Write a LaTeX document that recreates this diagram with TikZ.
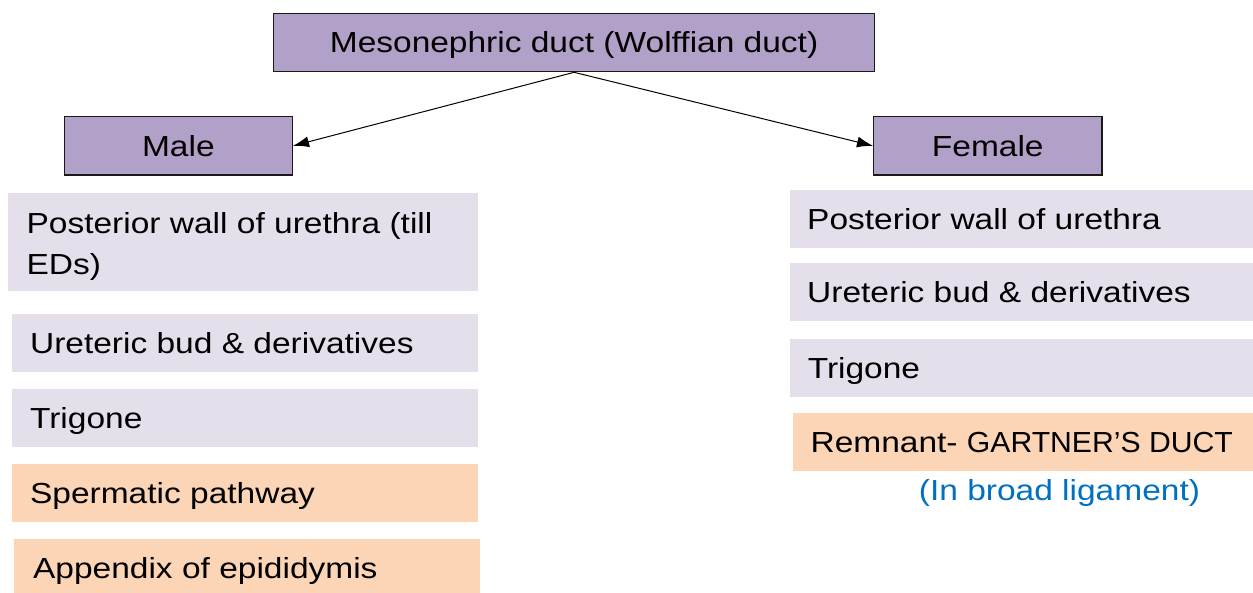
\documentclass[tikz,border=0pt]{standalone}
\usepackage{fontspec}
\setmainfont[FakeStretch=1.155]{Liberation Sans}
\newfontfamily\capsnarrow[FakeStretch=1.04]{Liberation Sans}
\usetikzlibrary{arrows.meta}
\definecolor{purp}{HTML}{B1A0C7}
\definecolor{lav}{HTML}{E5DFEC}
\definecolor{peach}{HTML}{FBD5B5}
\definecolor{note}{HTML}{0070C0}
\tikzset{
  basefont/.style={font=\fontsize{29}{41}\selectfont},
  pbox/.style={basefont, draw=black!90, line width=1.2pt, fill=purp, inner sep=0pt, text height=20.8pt, text depth=0pt},
  lbox/.style={fill=lav, inner sep=0pt, anchor=north west},
  obox/.style={fill=peach, inner sep=0pt, anchor=north west},
  txt/.style={basefont, inner sep=0pt, anchor=base west, align=left},
  conn/.style={line width=1pt, -{Latex[length=16pt,width=11pt]}}
}
\begin{document}
\begin{tikzpicture}[x=1pt,y=-1pt]
\useasboundingbox (0,0) rectangle (1253,592);
% top and gender boxes
\node[pbox, minimum width=600.9pt, minimum height=58.4pt] (top) at (574.05,42.5) {Mesonephric duct (Wolffian duct)};
\node[pbox, minimum width=228.1pt, minimum height=58.3pt] (male) at (178.35,145.85) {Male};
\node[pbox, minimum width=228.3pt, minimum height=58.3pt] (female) at (987.75,145.85) {Female};
\draw[conn] (top.south) -- (male.east);
\draw[conn] (top.south) -- (female.west);
% male list
\node[lbox, minimum width=469.9pt, minimum height=98.4pt] (m1) at (7.7,192.3) {};
\node[lbox, minimum width=465.7pt, minimum height=58.4pt] (m2) at (11.9,313.3) {};
\node[lbox, minimum width=465.7pt, minimum height=58.4pt] (m3) at (11.9,388.3) {};
\node[obox, minimum width=465.7pt, minimum height=58.4pt] (m4) at (11.9,463.3) {};
\node[obox, minimum width=465.8pt, minimum height=60pt] (m5) at (14.2,538.3) {};
\node[txt] (t1) at (26.4,274) {Posterior wall of urethra (till\\EDs)};
\node[txt] (t2) at (29.9,353.5) {Ureteric bud \& derivatives};
\node[txt] (t3) at (29.9,428.5) {Trigone};
\node[txt] (t4) at (29.9,503.5) {Spermatic pathway};
\node[txt] (t5) at (32.9,578.5) {Appendix of epididymis};
% female list
\node[lbox, minimum width=463pt, minimum height=58.4pt] (f1) at (790,189.3) {};
\node[lbox, minimum width=463.5pt, minimum height=58.4pt] (f2) at (789.5,262.3) {};
\node[lbox, minimum width=463pt, minimum height=58.4pt] (f3) at (790,338.3) {};
\node[obox, minimum width=460pt, minimum height=58.4pt] (f4) at (793,412.3) {};
\node[txt] (u1) at (807,229.5) {Posterior wall of urethra};
\node[txt] (u2) at (807,302.5) {Ureteric bud \& derivatives};
\node[txt] (u3) at (807.6,378.5) {Trigone};
\node[txt] (u4) at (810.4,452.5) {Remnant- {\capsnarrow GARTNER’S DUCT}};
\node[txt, text=note] (u5) at (918.7,500) {(In broad ligament)};
\end{tikzpicture}
\end{document}
